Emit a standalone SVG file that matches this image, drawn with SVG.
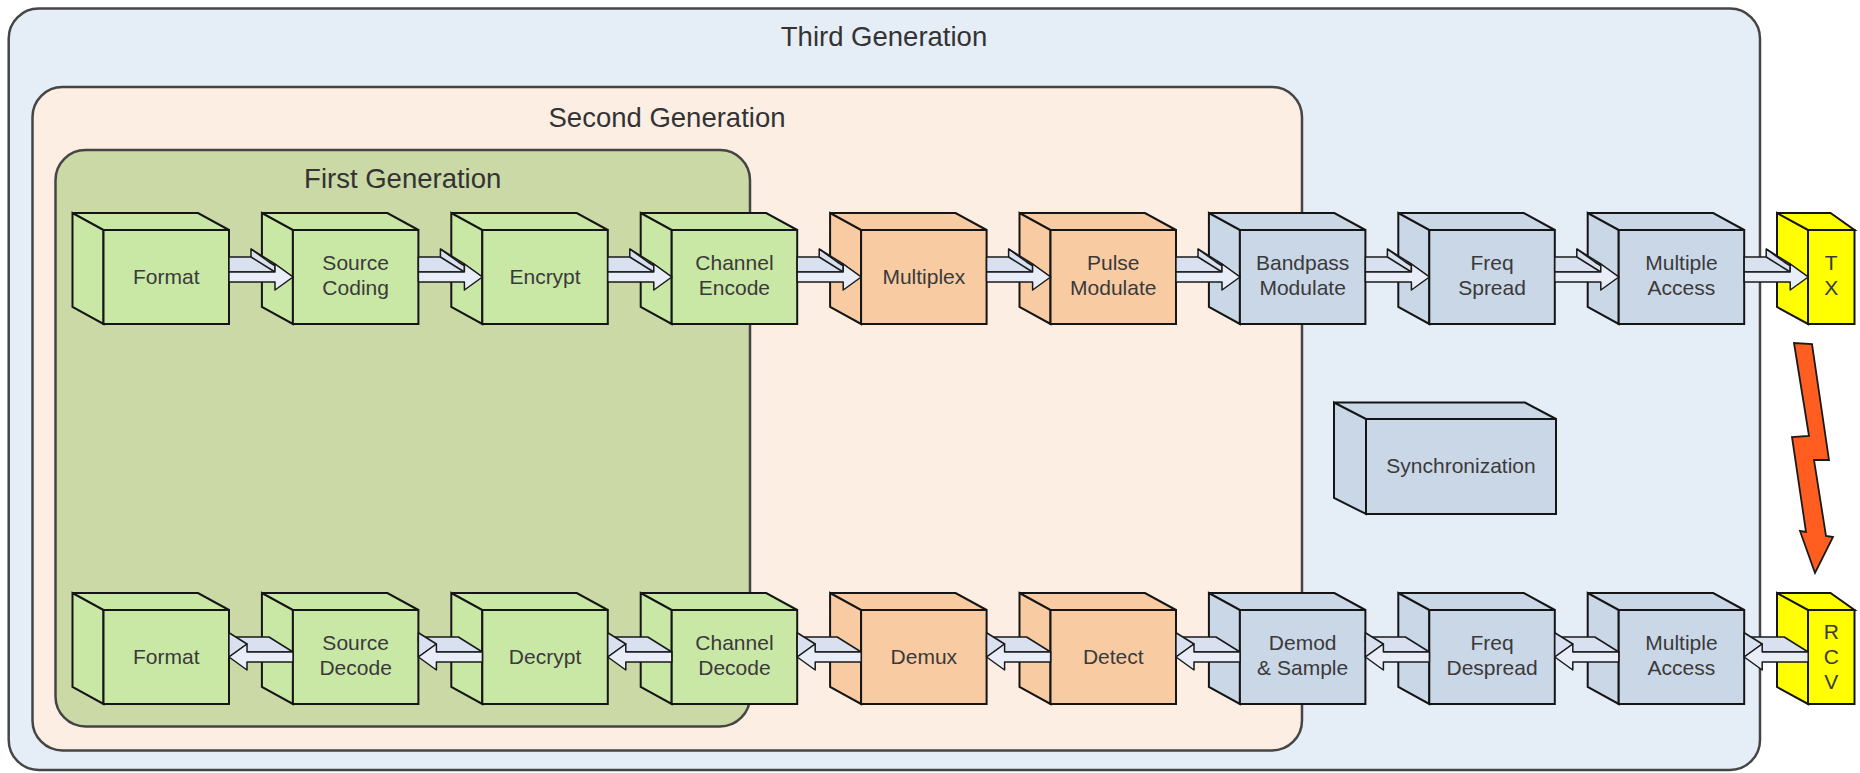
<svg xmlns="http://www.w3.org/2000/svg" xmlns:xlink="http://www.w3.org/1999/xlink" width="1860" height="773" viewBox="0 0 1860 773">
<style>
.cont{stroke:#454545;stroke-width:2.5}
.c3{fill:#E5EDF7}
.c2{fill:#FCEEE3}
.c1{fill:#CBD9A7}
.title{font-family:"Liberation Sans",Arial,sans-serif;font-size:27.5px;fill:#333;text-anchor:middle}
.t{font-family:"Liberation Sans",Arial,sans-serif;font-size:21px;fill:#3a3a3a;text-anchor:middle;stroke:none}
.grn{fill:#CAE8A5}
.org{fill:#F9CBA3}
.blu{fill:#CAD7E7}
.yel{fill:#FFFF00}
.cube{stroke:#151515;stroke-width:2;stroke-linejoin:miter}
.af{fill:#D9E1F0;stroke:#1a1a1a;stroke-width:1.5;stroke-linejoin:round}
.aa{fill:#E8EDF8;stroke:#1a1a1a;stroke-width:1.5;stroke-linejoin:round}
.al{fill:none;stroke:#1a1a1a;stroke-width:1.5}
.bolt{fill:#FF5E20;stroke:#1a1a1a;stroke-width:1.8;stroke-linejoin:miter}
</style>
<defs>
<g id="cube" class="cube"><path d="M0,0 L-31,-17 H94.5 L125.5,0 Z M0,0 L-31,-17 V77 L0,94 Z"/><rect width="125.5" height="94"/></g>
<g id="cubeY" class="cube"><path d="M0,0 L-31,-17 H22.5 L46.5,0 Z M0,0 L-31,-17 V77 L0,94 Z"/><rect width="46.5" height="94"/></g>
<g id="cubeS" class="cube"><path d="M0,0 L-32,-16.5 H159 L190,0 Z M0,0 L-32,-16.5 V79 L0,95 Z"/><rect width="190" height="95"/></g>
<g id="arrR">
<path class="af" d="M0,-5 L0,-20 L22,-20 L22,-28 L40,-15 L64,0 L46,-13 L46,-5 Z"/>
<path class="al" d="M46,-5 L22,-20 M46,-13 L22,-28"/>
<path class="aa" d="M0,-5 H46 V-13 L64,0 L46,13 V5 H0 Z"/>
</g>
<g id="arrL">
<path class="af" d="M0,-16.25 L18,-5 L64,-5 L40,-20 L0,-20 Z"/>
<path class="af" d="M0,0 L18,-13 L0,-24.25 Z"/>
<path class="aa" d="M0,0 L18,-13 V-5 H64 V5 H18 V13 Z"/>
</g>
</defs>

<g id="third-generation">
<rect class="cont c3" x="8.7" y="8.5" width="1751.3" height="761.5" rx="30" ry="30"/>
<text class="title" x="884" y="46">Third Generation</text>
</g>
<g id="second-generation">
<rect class="cont c2" x="32.5" y="87" width="1269.5" height="663.5" rx="30" ry="30"/>
<text class="title" x="667" y="127">Second Generation</text>
</g>
<g id="first-generation">
<rect class="cont c1" x="55.5" y="150" width="694.5" height="576.5" rx="30" ry="30"/>
<text class="title" x="402.7" y="188">First Generation</text>
</g>

<!-- transmit row -->
<g id="tx-format" class="grn" transform="translate(103.5,230)"><use href="#cube"/><text class="t" x="62.75" y="54">Format</text></g>
<g id="tx-source-coding" class="grn" transform="translate(292.9,230)"><use href="#cube"/><text class="t" x="62.75" y="40">Source</text><text class="t" x="62.75" y="65">Coding</text></g>
<g id="tx-encrypt" class="grn" transform="translate(482.3,230)"><use href="#cube"/><text class="t" x="62.75" y="54">Encrypt</text></g>
<g id="tx-channel-encode" class="grn" transform="translate(671.7,230)"><use href="#cube"/><text class="t" x="62.75" y="40">Channel</text><text class="t" x="62.75" y="65">Encode</text></g>
<g id="tx-multiplex" class="org" transform="translate(861.1,230)"><use href="#cube"/><text class="t" x="62.75" y="54">Multiplex</text></g>
<g id="tx-pulse-modulate" class="org" transform="translate(1050.5,230)"><use href="#cube"/><text class="t" x="62.75" y="40">Pulse</text><text class="t" x="62.75" y="65">Modulate</text></g>
<g id="tx-bandpass-modulate" class="blu" transform="translate(1239.9,230)"><use href="#cube"/><text class="t" x="62.75" y="40">Bandpass</text><text class="t" x="62.75" y="65">Modulate</text></g>
<g id="tx-freq-spread" class="blu" transform="translate(1429.3,230)"><use href="#cube"/><text class="t" x="62.75" y="40">Freq</text><text class="t" x="62.75" y="65">Spread</text></g>
<g id="tx-multiple-access" class="blu" transform="translate(1618.7,230)"><use href="#cube"/><text class="t" x="62.75" y="40">Multiple</text><text class="t" x="62.75" y="65">Access</text></g>
<g id="tx" class="yel" transform="translate(1808,230)"><use href="#cubeY"/><text class="t" x="23.25" y="40">T</text><text class="t" x="23.25" y="65">X</text></g>

<!-- synchronization -->
<g id="synchronization" class="blu" transform="translate(1366,419)"><use href="#cubeS"/><text class="t" x="95" y="54">Synchronization</text></g>

<!-- receive row -->
<g id="rx-format" class="grn" transform="translate(103.5,610)"><use href="#cube"/><text class="t" x="62.75" y="54">Format</text></g>
<g id="rx-source-decode" class="grn" transform="translate(292.9,610)"><use href="#cube"/><text class="t" x="62.75" y="40">Source</text><text class="t" x="62.75" y="65">Decode</text></g>
<g id="rx-decrypt" class="grn" transform="translate(482.3,610)"><use href="#cube"/><text class="t" x="62.75" y="54">Decrypt</text></g>
<g id="rx-channel-decode" class="grn" transform="translate(671.7,610)"><use href="#cube"/><text class="t" x="62.75" y="40">Channel</text><text class="t" x="62.75" y="65">Decode</text></g>
<g id="rx-demux" class="org" transform="translate(861.1,610)"><use href="#cube"/><text class="t" x="62.75" y="54">Demux</text></g>
<g id="rx-detect" class="org" transform="translate(1050.5,610)"><use href="#cube"/><text class="t" x="62.75" y="54">Detect</text></g>
<g id="rx-demod-sample" class="blu" transform="translate(1239.9,610)"><use href="#cube"/><text class="t" x="62.75" y="40">Demod</text><text class="t" x="62.75" y="65">&amp; Sample</text></g>
<g id="rx-freq-despread" class="blu" transform="translate(1429.3,610)"><use href="#cube"/><text class="t" x="62.75" y="40">Freq</text><text class="t" x="62.75" y="65">Despread</text></g>
<g id="rx-multiple-access" class="blu" transform="translate(1618.7,610)"><use href="#cube"/><text class="t" x="62.75" y="40">Multiple</text><text class="t" x="62.75" y="65">Access</text></g>
<g id="rcv" class="yel" transform="translate(1808,610)"><use href="#cubeY"/><text class="t" x="23.25" y="29">R</text><text class="t" x="23.25" y="54">C</text><text class="t" x="23.25" y="79">V</text></g>

<g id="connectors">
<use href="#arrR" transform="translate(229,277)"/>
<use href="#arrR" transform="translate(418.4,277)"/>
<use href="#arrR" transform="translate(607.8,277)"/>
<use href="#arrR" transform="translate(797.2,277)"/>
<use href="#arrR" transform="translate(986.6,277)"/>
<use href="#arrR" transform="translate(1176,277)"/>
<use href="#arrR" transform="translate(1365.4,277)"/>
<use href="#arrR" transform="translate(1554.8,277)"/>
<use href="#arrR" transform="translate(1744.2,277)"/>
<use href="#arrL" transform="translate(229,657)"/>
<use href="#arrL" transform="translate(418.4,657)"/>
<use href="#arrL" transform="translate(607.8,657)"/>
<use href="#arrL" transform="translate(797.2,657)"/>
<use href="#arrL" transform="translate(986.6,657)"/>
<use href="#arrL" transform="translate(1176,657)"/>
<use href="#arrL" transform="translate(1365.4,657)"/>
<use href="#arrL" transform="translate(1554.8,657)"/>
<use href="#arrL" transform="translate(1744.2,657)"/>
<polygon class="bolt" points="1794,343 1809,436 1792,437 1806,532 1800,531 1815,573 1833,537 1826,536 1814,460 1829,460 1812,344"/>
</g>
</svg>
